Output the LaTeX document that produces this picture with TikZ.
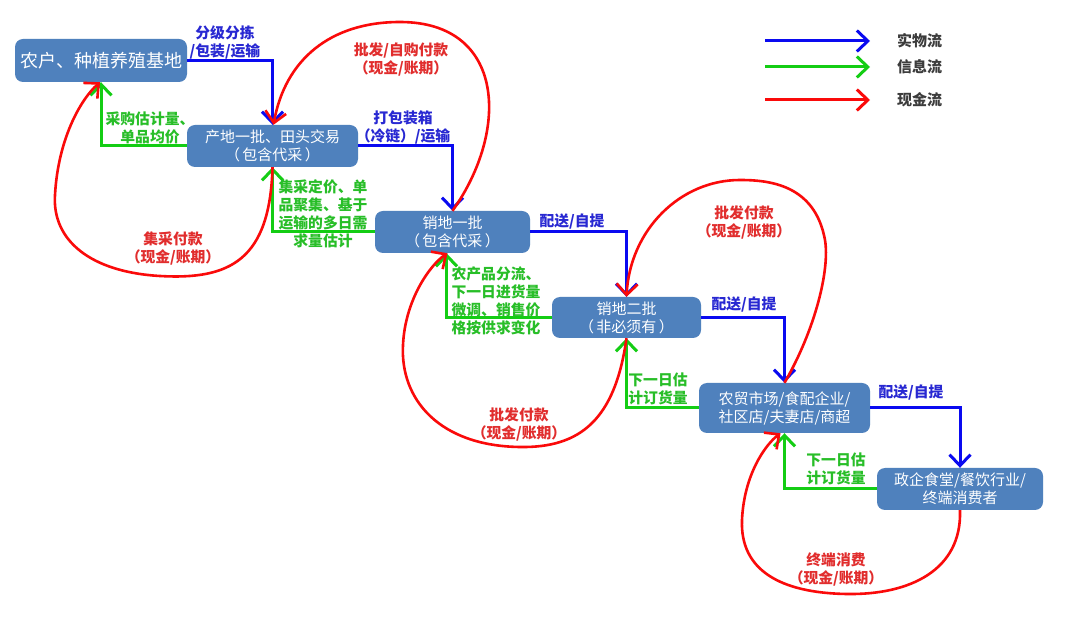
\documentclass[tikz,border=0pt]{standalone}
\usepackage{fontspec}
\setmainfont{Noto Sans CJK SC}
\usetikzlibrary{arrows.meta}
\begin{document}
\definecolor{nodeblue}{RGB}{79,129,189}
\definecolor{flowblue}{RGB}{10,10,240}
\definecolor{flowgreen}{RGB}{20,205,20}
\definecolor{flowred}{RGB}{250,10,10}
\definecolor{lblblue}{RGB}{40,40,210}
\definecolor{lblgreen}{RGB}{40,190,40}
\definecolor{lblred}{RGB}{225,45,45}
\definecolor{legendtext}{RGB}{60,60,60}
\tikzset{
 box/.style={fill=nodeblue, rounded corners=8pt, text=white, align=center,
   font=\fontsize{15}{18}\selectfont, inner sep=0pt},
 tipend/.style={-{Straight Barb[length=11pt,width=21pt]}},
 phys/.style={draw=flowblue, line width=3pt, tipend},
 info/.style={draw=flowgreen, line width=3pt, tipend},
 cash/.style={draw=flowred, line width=2.6pt, tipend},
 lbl/.style={align=center, font=\fontsize{14.8}{18}\selectfont\bfseries, inner sep=0pt},
 legtext/.style={anchor=west, text=legendtext, font=\fontsize{15}{17}\selectfont\bfseries, inner sep=0pt}
}
\begin{tikzpicture}[x=1pt,y=-1pt]
\useasboundingbox (0,0) rectangle (1080,617);
\fill[white] (0,0) rectangle (1080,617);

% nodes
\node[box, minimum width=172pt, minimum height=43pt, font=\fontsize{18}{22}\selectfont] (n1) at (101,60.5) {农户、种植养殖基地};
\node[box, minimum width=171pt, minimum height=42pt] (n2) at (272.5,146) {产地一批、田头交易\\（\,包含代采\,）};
\node[box, minimum width=155pt, minimum height=42pt] (n3) at (452.5,232) {销地一批\\（\,包含代采\,）};
\node[box, minimum width=149pt, minimum height=41pt] (n4) at (626.5,317.5) {销地二批\\（\,非必须有\,）};
\node[box, minimum width=171pt, minimum height=50pt] (n5) at (784.5,408) {农贸市场/食配企业/\\社区店/夫妻店/商超};
\node[box, minimum width=166pt, minimum height=42pt] (n6) at (960,489) {政企食堂/餐饮行业/\\终端消费者};

% physical flow
\draw[phys] (n1.east) -| (n2.north);
\draw[phys] (n2.east) -| (n3.north);
\draw[phys] (n3.east) -| (n4.north);
\draw[phys] (n4.east) -| (n5.north);
\draw[phys] (n5.east) -| (n6.north);

% information flow
\draw[info] (n2.west) -| (n1.south);
\draw[info] (n3.west) -| (n2.south);
\draw[info] (n4.west) -| ([xshift=-6pt]n3.south);
\draw[info] (n5.west) -| (n4.south);
\draw[info] (n6.west) -| (n5.south);

% cash flow
\draw[cash] (n3.north) .. controls (510,130) and (505,22) .. (400,22)
  .. controls (330,22) and (285,60) .. ([xshift=1pt]n2.north);
\draw[cash] (n2.south) .. controls (270,260) and (230,280) .. (160,276)
  .. controls (90,272) and (52,240) .. (55,195)
  .. controls (58,140) and (80,100) .. ([xshift=-1pt]n1.south);
\draw[cash] (n4.south) .. controls (615,420) and (580,448) .. (520,447)
  .. controls (440,446) and (400,400) .. (403,345)
  .. controls (405,300) and (430,265) .. ([xshift=-5pt]n3.south);
\draw[cash] (n5.north) .. controls (815,330) and (830,270) .. (825,240)
  .. controls (815,185) and (770,180) .. (740,180)
  .. controls (680,180) and (630,230) .. (n4.north);
\draw[cash] (n6.south) .. controls (962,570) and (910,595) .. (847,594)
  .. controls (780,593) and (740,570) .. (742,520)
  .. controls (744,475) and (765,445) .. ([xshift=-4pt]n5.south);

% labels
\node[lbl, text=lblblue] (l1) at (225,42.5) {分级分拣\\/包装/运输};
\node[lbl, text=lblgreen] (l2) at (150,127.5) {采购估计量、\\单品均价};
\node[lbl, text=lblgreen] (l3) at (323,213.5) {集采定价、单\\品聚集、基于\\运输的多日需\\求量估计};
\node[lbl, text=lblblue] (l4) at (403,127.5) {打包装箱\\（冷链）/运输};
\node[lbl, text=lblred] (l5) at (401,59) {批发/自购付款\\（现金/账期）};
\node[lbl, text=lblred] (l6) at (173,248) {集采付款\\（现金/账期）};
\node[lbl, text=lblblue] (l7) at (572,222) {配送/自提};
\node[lbl, text=lblgreen] (l8) at (496,300.5) {农产品分流、\\下一日进货量\\微调、销售价\\格按供求变化};
\node[lbl, text=lblblue] (l9) at (744,305) {配送/自提};
\node[lbl, text=lblred] (l10) at (744,222.5) {批发付款\\（现金/账期）};
\node[lbl, text=lblred] (l11) at (519,424) {批发付款\\（现金/账期）};
\node[lbl, text=lblgreen] (l12) at (658,389) {下一日估\\计订货量};
\node[lbl, text=lblblue] (l13) at (911,393) {配送/自提};
\node[lbl, text=lblgreen] (l14) at (836,469) {下一日估\\计订货量};
\node[lbl, text=lblred] (l15) at (836,569) {终端消费\\（现金/账期）};

% legend
\coordinate (lga) at (765,41);  \coordinate (lgb) at (870,41);
\coordinate (lgc) at (765,67);  \coordinate (lgd) at (870,67);
\coordinate (lge) at (765,100); \coordinate (lgf) at (870,100);
\draw[phys] (lga) -- (lgb);
\draw[info] (lgc) -- (lgd);
\draw[cash, line width=3pt] (lge) -- (lgf);
\node[legtext] (t1) at (897,41) {实物流};
\node[legtext] (t2) at (897,67) {信息流};
\node[legtext] (t3) at (897,100) {现金流};
\end{tikzpicture}
\end{document}
